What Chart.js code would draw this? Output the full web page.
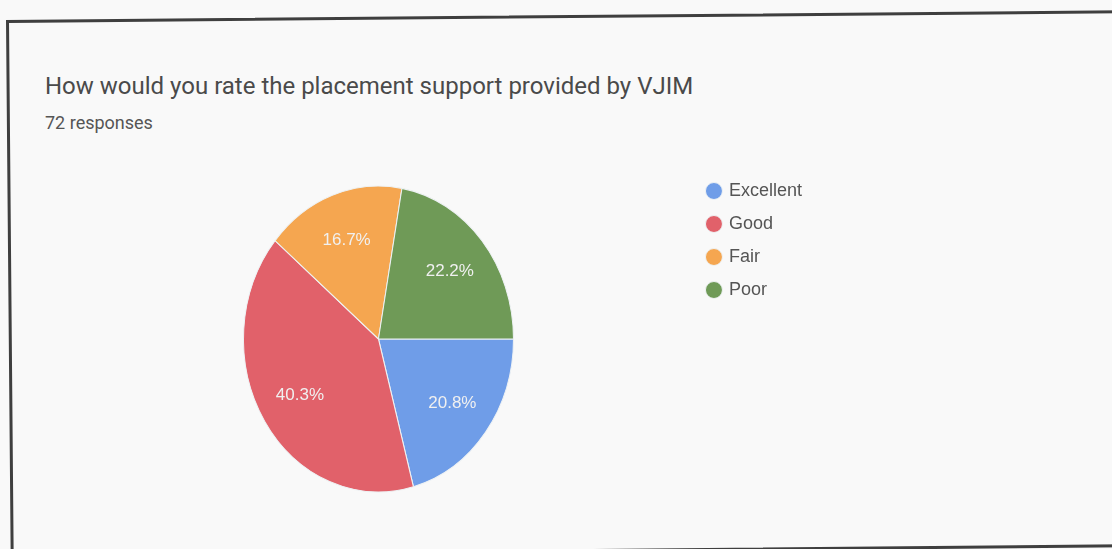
<!DOCTYPE html>
<html>
<head>
<meta charset="utf-8">
<title>Placement support rating</title>
<script src="https://cdn.jsdelivr.net/npm/chart.js@4.4.1/dist/chart.umd.min.js"></script>
<style>
    html, body {
        margin: 0;
        padding: 0;
        width: 1112px;
        height: 549px;
        overflow: hidden;
        background: #f9f9f9;
    }
    #frame {
        position: absolute;
        left: 6px;
        top: 20px;
        width: 1110px;
        height: 531px;
        border: 3px solid #3f3f3f;
        transform: rotate(-0.5deg);
        transform-origin: 0 0;
    }
    .title {
        position: absolute;
        left: 45px;
        top: 74px;
        font-family: Roboto, sans-serif;
        font-size: 24px;
        line-height: 1;
        color: #4a4a4a;
        white-space: nowrap;
    }
    .subtitle {
        position: absolute;
        left: 45px;
        top: 114px;
        font-family: Roboto, sans-serif;
        font-size: 18px;
        line-height: 1;
        color: #555;
        white-space: nowrap;
    }
    #chart-box {
        position: absolute;
        left: 64px;
        top: 167px;
        width: 748px;
        height: 344px;
    }
</style>
</head>
<body>
<div id="frame"></div>
<div class="title">How would you rate the placement support provided by VJIM</div>
<div class="subtitle">72 responses</div>
<div id="chart-box"><canvas id="rating-chart"></canvas></div>

<script>
// Responses per answer (72 in total)
const categories = ['Excellent', 'Good', 'Fair', 'Poor'];
const responses = [15, 29, 12, 16];
const sliceColors = ['#6f9de8', '#e1616a', '#f5a650', '#6f9a57'];

// the scanned pie is a bit taller than wide
const stretchY = 1.133;

// Stretch the pie vertically and write the percentages on the slices
const scanPiePlugin = {
    id: 'scanPie',
    beforeDatasetsDraw(chart) {
        const arc = chart.getDatasetMeta(0).data[0];
        const ctx = chart.ctx;
        ctx.save();
        ctx.translate(arc.x, arc.y);
        ctx.scale(1, stretchY);
        ctx.translate(-arc.x, -arc.y);
    },
    afterDatasetsDraw(chart) {
        const ctx = chart.ctx;
        ctx.restore();

        const total = responses.reduce((a, b) => a + b, 0);
        ctx.save();
        ctx.font = '17px "Liberation Sans", Arial, sans-serif';
        ctx.fillStyle = '#f0f0f0';
        ctx.textAlign = 'center';
        ctx.textBaseline = 'middle';
        chart.getDatasetMeta(0).data.forEach((arc, i) => {
            const mid = (arc.startAngle + arc.endAngle) / 2;
            const dist = arc.outerRadius * 0.69;
            const x = arc.x + Math.cos(mid) * dist;
            const y = arc.y + Math.sin(mid) * dist * stretchY;
            const pct = (responses[i] / total * 100).toFixed(1) + '%';
            ctx.fillText(pct, x, y);
        });
        ctx.restore();
    }
};

function renderRatingChart() {
    const ctx = document.getElementById('rating-chart').getContext('2d');
    new Chart(ctx, {
        type: 'pie',
        data: {
            labels: categories,
            datasets: [{
                data: responses,
                backgroundColor: sliceColors,
                borderColor: '#eef2f4',
                borderWidth: 1,
                radius: 135
            }]
        },
        options: {
            responsive: true,
            maintainAspectRatio: false,
            animation: false,
            rotation: 90,
            layout: { padding: 0 },
            plugins: {
                legend: {
                    position: 'right',
                    align: 'start',
                    labels: {
                        usePointStyle: true,
                        pointStyle: 'circle',
                        boxWidth: 12,
                        boxHeight: 12,
                        padding: 15,
                        color: '#555',
                        font: { family: '"Liberation Sans", Arial, sans-serif', size: 18 }
                    }
                },
                tooltip: { enabled: false }
            }
        },
        plugins: [scanPiePlugin]
    });
}

window.onload = renderRatingChart;
</script>
</body>
</html>
